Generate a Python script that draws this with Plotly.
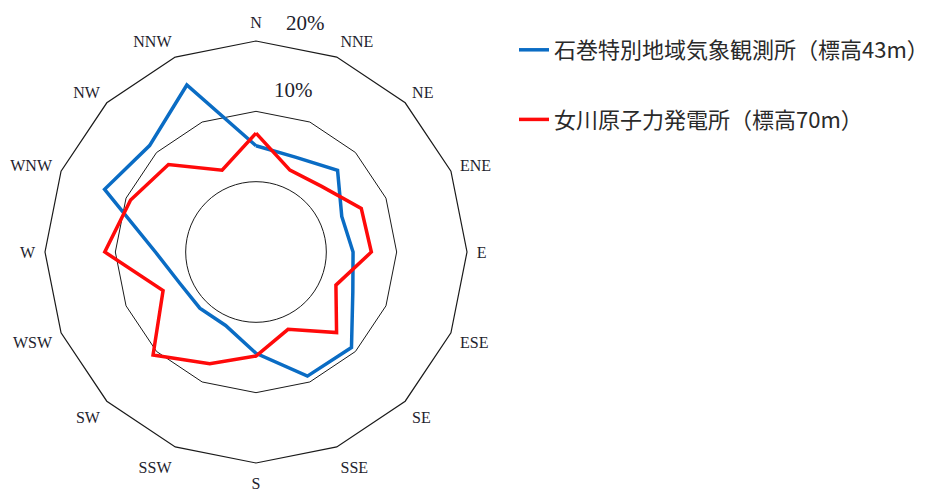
import plotly.graph_objects as go

# 16 wind directions, clockwise from north
directions = ["N", "NNE", "NE", "ENE", "E", "ESE", "SE", "SSE",
              "S", "SSW", "SW", "WSW", "W", "WNW", "NW", "NNW"]

# Wind direction frequency (%)
ishinomaki = [5.1, 4.6, 6.4, 3.2, 3.8, 4.9, 9.2, 9.1,
              4.4, 1.3, 1.3, 1.7, 4.3, 13.3, 11.4, 15.7]
onagawa = [6.9, 2.6, 3.2, 6.2, 6.4, 2.3, 6.2, 1.9,
           4.8, 7.2, 10.7, 4.3, 11.5, 9.3, 7.6, 2.6]

name_ishinomaki = "石巻特別地域気象観測所（標高43m）"
name_onagawa = "女川原子力発電所（標高70m）"

radial_range = [-10, 20]
grid_levels = [10, 20]
grid_labels = ["10%", "20%"]

fig = go.Figure()

# Helper subplot that only carries the circular 0 % ring
fig.add_trace(go.Scatterpolar(r=[None], theta=[None], subplot="polar",
                              showlegend=False, hoverinfo="skip"))


def closed(values):
    return values + values[:1]


fig.add_trace(go.Scatterpolar(
    r=closed(ishinomaki), theta=closed(directions), subplot="polar2",
    mode="lines", name=name_ishinomaki, legendgroup="a",
    line=dict(color="#0a6cc4", width=3.5)))
fig.add_trace(go.Scatterpolar(
    r=closed(onagawa), theta=closed(directions), subplot="polar2",
    mode="lines", name=name_onagawa, legendgroup="b",
    line=dict(color="#ff0a0a", width=3.5)))

domain = dict(x=[45 / 928, 467 / 928], y=[33 / 496, 455 / 496])
line_col = "#1a1a1a"

fig.update_layout(
    width=928, height=496,
    margin=dict(l=0, r=0, t=0, b=0, autoexpand=False),
    paper_bgcolor="white",
    polar=dict(
        domain=domain, bgcolor="white", gridshape="circular",
        radialaxis=dict(range=radial_range, tickvals=[0], showticklabels=False,
                        showline=False, ticks="", gridcolor=line_col, gridwidth=1.2),
        angularaxis=dict(type="linear", showline=False, showgrid=False,
                         showticklabels=False, ticks=""),
    ),
    polar2=dict(
        domain=domain, bgcolor="rgba(0,0,0,0)", gridshape="linear",
        radialaxis=dict(range=radial_range, tickvals=grid_levels,
                        showticklabels=False, showline=False, ticks="",
                        gridcolor=line_col, gridwidth=1.2),
        angularaxis=dict(type="category", categoryarray=directions,
                         direction="clockwise", rotation=90,
                         showline=True, linecolor=line_col, linewidth=1.2,
                         showgrid=False, ticks="outside", ticklen=6,
                         tickcolor="rgba(0,0,0,0)",
                         tickfont=dict(family="Liberation Serif", size=16,
                                       color="#1e1e2e")),
    ),
    legend=dict(x=514 / 928, y=1 - 29 / 496, xanchor="left", yanchor="top",
                tracegroupgap=38, traceorder="grouped",
                font=dict(family="Noto Sans CJK JP", size=22, color="#2a2a2a"),
                bgcolor="rgba(0,0,0,0)"),
    showlegend=True,
)

# Percentage labels for the grid levels
label_pos = {"10%": (293, 90), "20%": (305, 23)}
for lab in grid_labels:
    px, py = label_pos[lab]
    fig.add_annotation(text=lab, x=px / 928, y=1 - py / 496,
                       xref="paper", yref="paper", showarrow=False,
                       xanchor="center", yanchor="middle",
                       font=dict(family="Liberation Serif", size=21,
                                 color="#1e1e2e"))

fig.write_html("out.html")
